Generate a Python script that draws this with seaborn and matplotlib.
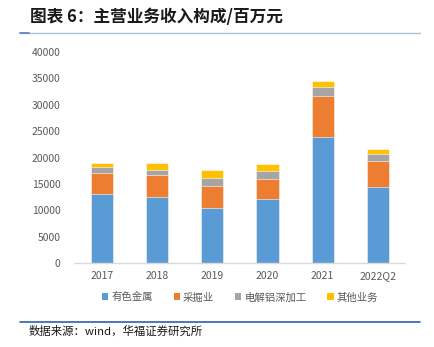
import matplotlib
matplotlib.use("Agg")
import matplotlib.pyplot as plt
import seaborn as sns
import numpy as np
import pandas as pd
from matplotlib.patches import Patch
from matplotlib.lines import Line2D

categories = ["2017", "2018", "2019", "2020", "2021", "2022Q2"]
nonferrous = [13020, 12570, 10370, 12070, 23830, 14470]
mining = [4100, 4110, 4230, 3910, 7890, 4920]
aluminum = [1020, 950, 1450, 1460, 1710, 1330]
other = [820, 1330, 1640, 1330, 1130, 950]
series_names = ["有色金属", "采掘业", "电解铝深加工", "其他业务"]
colors = ["#5B9BD5", "#ED7D31", "#A5A5A5", "#FFC000"]
yticks = [0, 5000, 10000, 15000, 20000, 25000, 30000, 35000, 40000]

sns.set_theme(style="white")
plt.rcParams['font.family'] = ['Noto Sans CJK SC', 'DejaVu Sans']

fig = plt.figure(figsize=(4.35, 3.47), dpi=100)
ax = fig.add_axes([0.171, 0.242, 0.761, 0.608])

series = [nonferrous, mining, aluminum, other]
cum = np.cumsum(np.array(series), axis=0)
for i in range(len(series) - 1, -1, -1):
    df = pd.DataFrame({"cat": categories, "val": cum[i]})
    sns.barplot(data=df, x="cat", y="val", color=colors[i], width=0.4,
                ax=ax, edgecolor="white", linewidth=0.4, saturation=1)

ax.set_ylim(0, 40000)
ax.set_yticks(yticks)
ax.set_yticklabels([str(v) for v in yticks])
ax.set_xlim(-0.5, 5.5)
ax.set_xlabel("")
ax.set_ylabel("")
for s in ["top", "right", "left"]:
    ax.spines[s].set_visible(False)
ax.spines["bottom"].set_color("#D9D9D9")
ax.spines["bottom"].set_linewidth(1.0)
ax.tick_params(axis="both", length=0, labelsize=7.5, labelcolor="#595959", pad=6)
ax.tick_params(axis="y", pad=10)

handles = [Patch(facecolor=c, edgecolor="none") for c in colors]
fig.legend(handles, series_names, loc="center", bbox_to_anchor=(0.552, 0.143),
           ncol=4, frameon=False, fontsize=7.5, labelcolor="#595959",
           handlelength=0.6, handleheight=0.6, handletextpad=0.3, columnspacing=2.0)

fig.text(0.069, 0.95, "图表 6：主营业务收入构成/百万元", fontsize=12,
         fontweight="bold", va="center", ha="left", color="#1a1a1a")
fig.add_artist(Line2D([0.046, 0.966], [0.905, 0.905], color="#A9C0DC", lw=1.0))
fig.add_artist(Line2D([0.046, 0.066], [0.905, 0.905], color="#6D8FC4", lw=1.4))
fig.add_artist(Line2D([0.046, 0.966], [0.072, 0.072], color="#2E62A8", lw=1.2))
fig.text(0.066, 0.046, "数据来源：wind，华福证券研究所", fontsize=8.2,
         va="center", ha="left", color="#1a1a1a")

fig.savefig("out.png", dpi=100)
